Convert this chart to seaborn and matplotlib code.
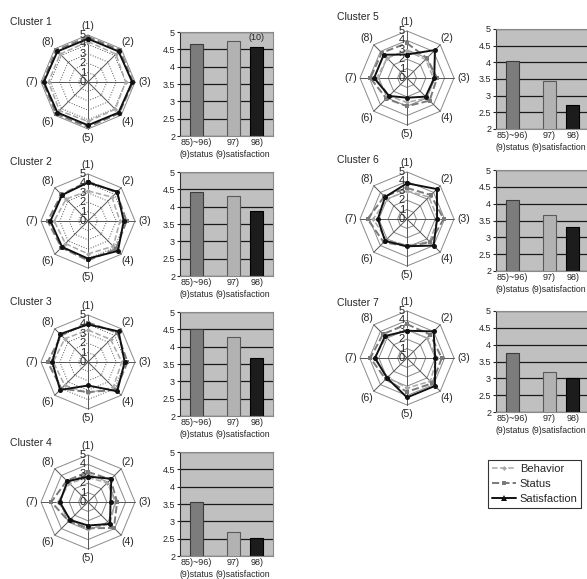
import numpy as np
import pandas as pd
import matplotlib
matplotlib.use("Agg")
import matplotlib.pyplot as plt
from matplotlib.lines import Line2D
import seaborn as sns

# data
clusters = ["Cluster 1", "Cluster 2", "Cluster 3", "Cluster 4",
            "Cluster 5", "Cluster 6", "Cluster 7"]
items = ["(1)", "(2)", "(3)", "(4)", "(5)", "(6)", "(7)", "(8)"]
series_names = ["Behavior", "Status", "Satisfaction"]

behavior = [
    [4.3, 4.2, 4.0, 4.1, 4.2, 4.3, 4.2, 4.2],
    [3.2, 3.6, 3.4, 3.8, 3.5, 3.4, 3.6, 3.3],
    [3.4, 3.4, 3.6, 3.8, 3.3, 3.5, 3.7, 3.5],
    [2.6, 2.9, 2.9, 3.3, 2.9, 2.6, 3.2, 2.8],
    [2.9, 2.8, 2.8, 3.0, 2.6, 2.7, 3.2, 3.0],
    [3.0, 3.3, 3.3, 3.4, 2.8, 3.1, 3.6, 3.0],
    [3.0, 3.0, 3.2, 3.5, 3.2, 2.9, 3.5, 3.1],
]
status = [
    [4.8, 4.8, 4.8, 4.7, 4.8, 4.8, 4.8, 4.8],
    [4.2, 4.3, 4.1, 4.2, 4.2, 4.0, 4.3, 4.0],
    [4.2, 4.4, 4.2, 4.2, 3.2, 4.0, 4.3, 4.0],
    [3.2, 3.4, 3.1, 3.9, 2.8, 2.9, 3.9, 3.2],
    [3.7, 3.0, 3.2, 3.4, 3.0, 3.1, 3.9, 3.8],
    [3.3, 3.6, 3.9, 3.5, 2.9, 3.5, 4.2, 3.4],
    [3.6, 3.5, 3.7, 3.8, 3.6, 3.2, 3.9, 3.6],
]
satisfaction = [
    [4.6, 4.6, 4.7, 4.6, 4.6, 4.6, 4.7, 4.6],
    [4.1, 4.4, 3.8, 4.5, 4.0, 3.9, 4.0, 3.9],
    [4.0, 4.6, 3.9, 4.4, 2.5, 4.2, 3.8, 4.2],
    [2.7, 3.5, 2.4, 3.3, 2.5, 2.7, 3.0, 3.1],
    [2.5, 4.2, 2.9, 2.8, 2.1, 2.7, 3.5, 3.5],
    [3.8, 4.5, 3.2, 4.0, 2.9, 3.3, 3.1, 3.3],
    [2.9, 4.0, 3.0, 4.2, 4.2, 3.0, 3.4, 3.3],
]

periods = ["85)~96)", "97)", "98)"]
status_85_96 = [4.65, 4.42, 4.50, 3.55, 4.04, 4.10, 3.75]
satisfaction_97 = [4.74, 4.31, 4.27, 2.68, 3.44, 3.65, 3.20]
satisfaction_98 = [4.57, 3.88, 3.68, 2.52, 2.72, 3.30, 3.00]

# layout (pixels)
W, H = 587, 579
R = 47
radar_centers = [(88, 82), (88, 221), (88, 362), (88, 502),
                 (407, 78), (407, 219), (407, 358)]
title_pos = [(10, 22), (10, 162), (10, 302), (10, 443),
             (337, 17), (337, 160), (337, 303)]
bar_boxes = [(180, 32, 136), (180, 172, 276), (180, 312, 416), (180, 452, 556),
             (496, 29, 129), (496, 170, 271), (496, 311, 412)]
bar_pos = [0.7, 2.3, 3.3]
bar_colors = ["#7c7c7c", "#b2b2b2", "#1c1c1c"]
bar_edges = ["#3c3c3c", "#5a5a5a", "#000000"]
ring_styles = [":", ":", ":", "-", "-", "-", "-"]

sns.set_style("white")
plt.rcParams["font.family"] = ["Liberation Sans", "DejaVu Sans"]

fig = plt.figure(figsize=(W / 100, H / 100), dpi=100)

theta = np.linspace(0, 2 * np.pi, 9)


def closed(v):
    return list(v) + [v[0]]


def radar(k):
    cx, cy = radar_centers[k]
    ax = fig.add_axes([(cx - R) / W, (H - cy - R) / H, 2 * R / W, 2 * R / H],
                      projection="polar")
    ax.set_theta_zero_location("N")
    ax.set_theta_direction(-1)
    ax.grid(False)
    ax.set_xticks([])
    ax.set_yticks([])
    ax.spines["polar"].set_visible(False)
    ax.patch.set_alpha(0)

    # octagon grid
    for r in range(1, 6):
        ls = "-" if r == 5 else ring_styles[k]
        col = "#8a8a8a" if ls == "-" else "#555555"
        ax.plot(theta, [r] * 9, color=col, ls=ls, lw=0.7, clip_on=False)
    for t in theta[:-1]:
        ax.plot([t, t], [0, 5], color="#555555", lw=0.7, clip_on=False)

    sns.lineplot(x=theta, y=closed(behavior[k]), ax=ax, sort=False, estimator=None,
                 color="#a8a8a8", linestyle="--", lw=1.1, marker="D",
                 markersize=2.5, markeredgewidth=0, clip_on=False)
    sns.lineplot(x=theta, y=closed(status[k]), ax=ax, sort=False, estimator=None,
                 color="#7a7a7a", linestyle="--", lw=1.4, marker="s",
                 markersize=3.2, markeredgewidth=0, clip_on=False)
    sns.lineplot(x=theta, y=closed(satisfaction[k]), ax=ax, sort=False, estimator=None,
                 color="#111111", linestyle="-", lw=1.4, marker="o",
                 markersize=3.6, markeredgewidth=0, clip_on=False)
    ax.set_ylim(0, 5)
    ax.set_xlabel("")
    ax.set_ylabel("")

    for t, lab in zip(theta[:-1], items):
        ax.text(t, 6.0, lab, ha="center", va="center", fontsize=7.5, clip_on=False)
    for r in range(6):
        ax.annotate(str(r), xy=(0, r), xytext=(-1.5, 0), textcoords="offset points",
                    ha="right", va="center", fontsize=8)

    tx, ty = title_pos[k]
    fig.text(tx / W, 1 - ty / H, clusters[k], ha="left", va="center", fontsize=7.5)


def bars(k):
    x0, yt, yb = bar_boxes[k]
    ax = fig.add_axes([x0 / W, (H - yb) / H, 93 / W, (yb - yt) / H])
    df = pd.DataFrame({"pos": bar_pos,
                       "value": [status_85_96[k], satisfaction_97[k], satisfaction_98[k]],
                       "period": periods})
    sns.barplot(data=df, x="pos", y="value", hue="period", hue_order=periods,
                palette=dict(zip(periods, bar_colors)), native_scale=True,
                dodge=False, width=0.56, legend=False, ax=ax, saturation=1)
    for p, ec in zip(ax.patches, bar_edges):
        p.set_edgecolor(ec)
        p.set_linewidth(0.8)
    ax.set_facecolor("#c0c0c0")
    ax.set_ylim(2, 5)
    ax.set_xlim(0, 4)
    yt_vals = np.arange(2, 5.01, 0.5)
    ax.set_yticks(yt_vals, [f"{v:g}" for v in yt_vals])
    ax.yaxis.grid(True, color="#1a1a1a", lw=0.9)
    ax.set_axisbelow(True)
    ax.set_xticks(bar_pos, periods)
    ax.tick_params(axis="x", length=0, pad=1.5, labelsize=6.5)
    ax.tick_params(axis="y", length=2, pad=1.5, labelsize=6.5, left=True)
    ax.set_xlabel("")
    ax.set_ylabel("")
    for s in ax.spines.values():
        s.set_color("#8a8a8a")
        s.set_linewidth(0.8)
    ax.spines["left"].set_color("#333333")
    ax.annotate("(9)status", xy=(bar_pos[0], 0), xycoords=("data", "axes fraction"),
                xytext=(0, -13), textcoords="offset points",
                ha="center", va="center", fontsize=6.3)
    ax.annotate("(9)satisfaction", xy=((bar_pos[1] + bar_pos[2]) / 2, 0),
                xycoords=("data", "axes fraction"), xytext=(-1.5, -13),
                textcoords="offset points", ha="center", va="center", fontsize=6.3)
    if k == 0:
        ax.text(bar_pos[2], 4.83, "(10)", ha="center", va="center", fontsize=6.5)


for k in range(len(clusters)):
    radar(k)
    bars(k)

handles = [
    Line2D([], [], color="#a8a8a8", ls="--", lw=1.1, marker="D", markersize=2.5,
           markeredgewidth=0),
    Line2D([], [], color="#7a7a7a", ls="--", lw=1.4, marker="s", markersize=3.2,
           markeredgewidth=0),
    Line2D([], [], color="#111111", ls="-", lw=1.4, marker="^", markersize=4,
           markeredgewidth=0),
]
leg = fig.legend(handles, series_names, loc="upper left",
                 bbox_to_anchor=(488 / W, 1 - 460 / H), fontsize=8,
                 frameon=True, fancybox=False, edgecolor="black",
                 handlelength=2.2, handletextpad=0.3, borderpad=0.35,
                 labelspacing=0.45, borderaxespad=0)
leg.get_frame().set_linewidth(0.8)

fig.savefig("out.png", dpi=100)
